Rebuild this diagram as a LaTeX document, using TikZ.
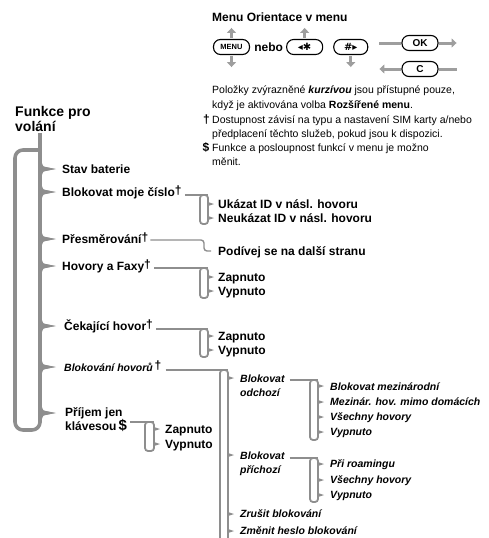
\documentclass[tikz,border=0pt]{standalone}
\usepackage{fontspec}
\setmainfont{Liberation Sans}
\newfontfamily\keysym{DejaVu Sans}
\usetikzlibrary{arrows.meta, positioning}
\definecolor{fnline}{HTML}{8E8E8E}
\definecolor{fnarrow}{HTML}{9E9E9E}
\newcommand\fndag{\raisebox{2pt}{\upshape\bfseries\fontsize{12}{12}\selectfont †}}
\newcommand\fndol{\,\raisebox{0pt}{\upshape\bfseries\fontsize{15}{15}\selectfont \$}}
\tikzset{
  fnhead/.style  = {font=\bfseries\fontsize{14}{15}\selectfont, align=left,
                    anchor=base west, inner sep=0pt},
  fnitem/.style  = {font=\bfseries\fontsize{12}{14}\selectfont, align=left,
                    anchor=base west, inner sep=0pt},
  fnital/.style  = {font=\bfseries\itshape\fontsize{10.5}{14}\selectfont, align=left,
                    anchor=base west, inner sep=0pt},
  fnnote/.style  = {font=\fontsize{10.5}{14.4}\selectfont, align=left,
                    anchor=base west, inner sep=0pt},
  fnmark/.style  = {font=\bfseries\fontsize{12}{14}\selectfont,
                    anchor=base west, inner sep=0pt},
  fnspine/.style = {draw=fnline, line width=3.6pt, rounded corners=8pt},
  fnloop/.style  = {draw=fnline, line width=1.8pt, rounded corners=3pt},
  fnlink/.style  = {draw=fnline, line width=1.4pt},
  fntip/.style   = {fill=fnline},
  keybox/.style  = {draw, line width=1.1pt, rounded corners=7pt,
                    minimum width=36pt, minimum height=15pt, inner sep=0pt,
                    font=\bfseries\fontsize{10}{10}\selectfont},
  keyarr/.style  = {draw=fnarrow, line width=3pt,
                    -{Triangle[length=5pt, width=9pt]}},
  keybar/.style  = {draw=fnarrow, line width=3pt},
}
\begin{document}
\begin{tikzpicture}[x=1pt, y=-1pt]
\useasboundingbox (0,0) rectangle (488,538);

% ovladani menu
\node[fnitem] (orient) at (212,21.5) {Menu Orientace v menu};
\node[keybox] (kmenu) at (231.5,47) {\fontsize{7.5}{7.5}\selectfont MENU};
\node[fnitem, right=4pt of kmenu] (nebo) {nebo};
\node[keybox, right=3pt of nebo] (kstar) {\keysym\fontsize{10}{10}\selectfont ◂✱\hspace{5pt}};
\node[keybox, minimum width=34pt, right=10pt of kstar] (khash) {\keysym\fontsize{10}{10}\selectfont \#▸};
\draw[keyarr] ([yshift=1pt]kmenu.north) -- ++(0,-10);
\draw[keyarr] ([yshift=-1pt]kmenu.south) -- ++(0,11);
\draw[keyarr] ([yshift=1pt]kstar.north) -- ++(0,-10);
\draw[keyarr] ([yshift=-1pt]khash.south) -- ++(0,11);

\node[keybox] (kok) at (420,43) {OK};
\node[keybox] (kc) at (420,69) {C};
\draw[keybar] (kok.west) -- ++(-22,0);
\draw[keyarr] (kok.east) -- ++(18,0);
\draw[keyarr] (kc.west) -- ++(-22,0);
\draw[keybar] (kc.east) -- ++(18,0);

% poznamky (base = posledni radek)
\node[fnnote] (pozn) at (212,108)
  {Položky zvýrazněné \textbf{\textit{kurzívou}} jsou přístupné pouze,\\
   když je aktivována volba \textbf{Rozšířené menu}.};
\node[fnnote] (dost) at (212,137.4)
  {Dostupnost závisí na typu a nastavení SIM karty a/nebo\\
   předplacení těchto služeb, pokud jsou k dispozici.};
\node[fnnote] (posl) at (212,165.9)
  {Funkce a posloupnost funkcí v menu je možno\\měnit.};
\node[fnmark] (mdag) at (203,123) {†};
\node[fnmark] (mdol) at (202.5,151.5) {\$};

% hlavni menu
\node[fnhead] (fnttl) at (15,131.5) {Funkce pro\\volání};
\node[fnitem] (stav) at (62,173) {Stav baterie};
\node[fnitem] (blokid) at (62,196) {Blokovat moje číslo\fndag};
\node[fnitem] (presm) at (62,243) {Přesměrování\fndag};
\node[fnitem] (faxy) at (62,270) {Hovory a Faxy\fndag};
\node[fnitem] (cekaj) at (64,330) {Čekající hovor\fndag};
\node[fnital] (blokhov) at (64,371) {Blokování hovorů\,\fndag};
\node[fnitem] (prijem) at (65,430) {Příjem jen\\klávesou\fndol};

\draw[fnspine] (40,133) -- (40,430) -- (15,430) -- (15,150) -- (40,150);
\foreach \y in {169,192,239,266,326,367,413} {
  \draw[fnline, line width=3.2pt]
    (40,{\y-10}) .. controls (40,{\y-3}) and (42,\y) .. (47,\y)
    .. controls (42,\y) and (40,{\y+3}) .. (40,{\y+10});
  \fill[fntip] (44,{\y-2.4}) -- (55,\y) -- (44,{\y+2.4}) -- cycle;
}

% podnabidky
\node[fnitem] (idon) at (218,208) {Ukázat ID v násl. hovoru};
\node[fnitem] (idoff) at (218,222) {Neukázat ID v násl. hovoru};
\node[fnitem] (dalsi) at (218,255) {Podívej se na další stranu};
\node[fnitem] (faxon) at (218,281) {Zapnuto};
\node[fnitem] (faxoff) at (218,295) {Vypnuto};
\node[fnitem] (cekon) at (218,340) {Zapnuto};
\node[fnitem] (cekoff) at (218,354) {Vypnuto};
\node[fnitem] (prjon) at (165,433) {Zapnuto};
\node[fnitem] (prjoff) at (165,448) {Vypnuto};

\node[fnital] (odch) at (240,396) {Blokovat\\odchozí};
\node[fnital] (mezin) at (330,390) {Blokovat mezinárodní};
\node[fnital] (mimo) at (330,405.5) {Mezinár. hov. mimo domácích};
\node[fnital] (ovsech) at (330,420.5) {Všechny hovory};
\node[fnital] (ovyp) at (330,435.5) {Vypnuto};
\node[fnital] (prich) at (240,473.5) {Blokovat\\příchozí};
\node[fnital] (roam) at (330,467.5) {Při roamingu};
\node[fnital] (pvsech) at (330,483.5) {Všechny hovory};
\node[fnital] (pvyp) at (330,498.5) {Vypnuto};
\node[fnital] (zrus) at (240,517.5) {Zrušit blokování};
\node[fnital] (heslo) at (240,534.5) {Změnit heslo blokování};

% spojky k podnabidkam
\coordinate (lpid) at (208,195);
\coordinate (lppr) at (204,240);
\coordinate (lpfx) at (208,268);
\coordinate (lpck) at (208,329);
\coordinate (lpbh) at (228,370);
\coordinate (lpod) at (318,380);
\coordinate (lpph) at (318,458);
\coordinate (lppj) at (154,422);
\draw[fnlink] ([xshift=3pt]blokid.east |- lpid) -- (lpid);
\draw[fnlink, rounded corners=3pt] ([xshift=2pt]presm.east |- lppr) -- (lppr) -- (204,251) -- (211,251);
\draw[fnlink] ([xshift=3pt]faxy.east |- lpfx) -- (lpfx);
\draw[fnlink] ([xshift=3pt]cekaj.east |- lpck) -- (lpck);
\draw[fnlink] ([xshift=4pt]blokhov.east |- lpbh) -- (lpbh);
\draw[fnlink] ([xshift=5pt]odch.east |- lpod) -- (lpod);
\draw[fnlink] ([xshift=5pt]prich.east |- lpph) -- (lpph);
\draw[fnlink] ([xshift=3pt]prijem.east |- lppj) -- (lppj);

\foreach \xl/\xr/\yt/\yb in {200/208/195/224, 200/208/268/298, 200/208/329/357,
    220/228/370/548, 310/318/380/440, 310/318/458/502, 145/154/422/451}
  \draw[fnloop] (\xr,\yt) -- (\xr,\yb) -- (\xl,\yb) -- (\xl,\yt) -- cycle;

\foreach \xr/\y in {208/204, 208/218, 208/277, 208/291, 208/336, 208/350,
    228/378, 228/455, 228/514, 228/531,
    318/386, 318/402, 318/417, 318/432, 318/464, 318/480, 318/495,
    154/429, 154/444}
  \fill[fntip] (\xr,{\y-2}) -- ({\xr+6},\y) -- (\xr,{\y+2}) -- cycle;
\end{tikzpicture}
\end{document}
